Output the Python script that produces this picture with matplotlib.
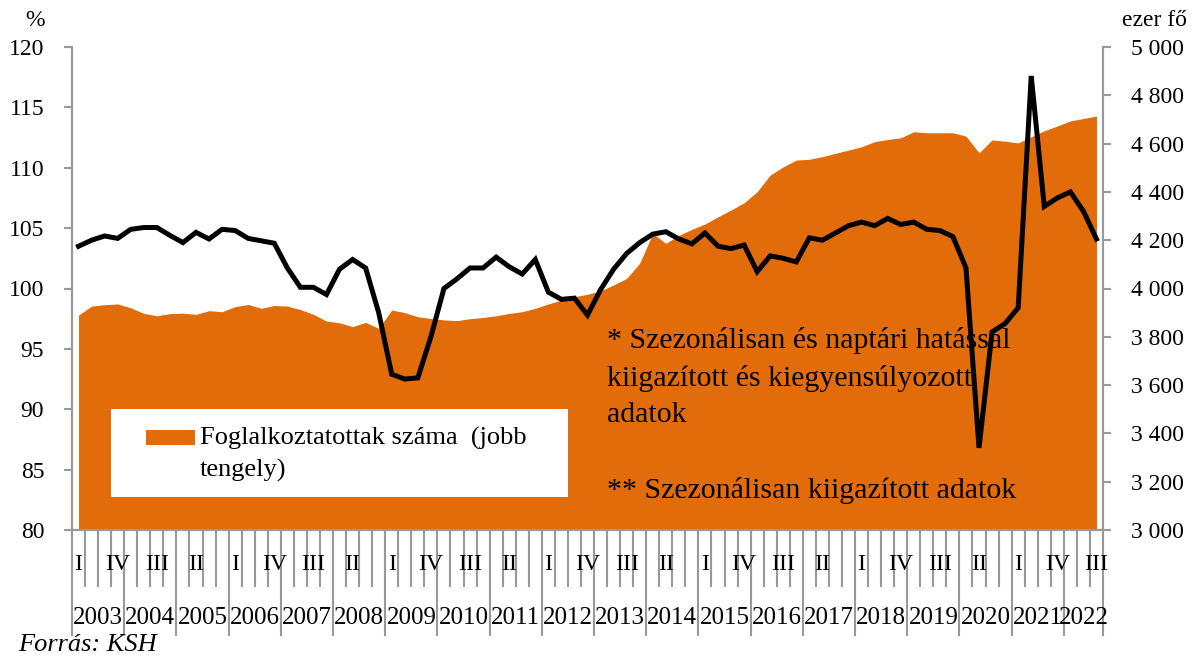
import matplotlib
matplotlib.use("Agg")
import matplotlib.pyplot as plt
from matplotlib.patches import Rectangle
from matplotlib.ticker import FixedLocator, FuncFormatter
import matplotlib.transforms as mtransforms

plt.rcParams['font.family'] = ['Liberation Serif', 'DejaVu Serif']

years = [str(y) for y in range(2003, 2023)]
quarters = ["I", "II", "III", "IV"]

# foglalkoztatottak szama, ezer fo (jobb tengely)
employed = [3890, 3927, 3933, 3936, 3920, 3897, 3887, 3896, 3898, 3893,
            3908, 3904, 3925, 3934, 3918, 3930, 3927, 3913, 3893, 3865,
            3858, 3842, 3860, 3835, 3911, 3900, 3883, 3876, 3870, 3867,
            3875, 3880, 3887, 3897, 3904, 3918, 3936, 3952, 3966, 3976,
            3990, 4015, 4042, 4105, 4228, 4187, 4220, 4245, 4267, 4297,
            4325, 4355, 4401, 4470, 4504, 4532, 4535, 4546, 4560, 4573,
            4587, 4608, 4617, 4624, 4649, 4645, 4645, 4645, 4631, 4562,
            4615, 4610, 4603, 4628, 4653, 4673, 4694, 4704, 4714]

# index, % (bal tengely)
index = [103.5, 104.0, 104.35, 104.15, 104.9, 105.05, 105.05, 104.4, 103.8, 104.65,
         104.1, 104.9, 104.8, 104.15, 103.95, 103.75, 101.7, 100.1, 100.1, 99.5,
         101.6, 102.4, 101.7, 98.0, 92.9, 92.5, 92.6, 96.0, 100.0, 100.8,
         101.7, 101.7, 102.6, 101.8, 101.2, 102.4, 99.7, 99.1, 99.2, 97.8,
         99.9, 101.6, 102.9, 103.8, 104.5, 104.7, 104.1, 103.7, 104.6, 103.5,
         103.3, 103.6, 101.4, 102.7, 102.5, 102.2, 104.2, 104.0, 104.6, 105.2,
         105.5, 105.2, 105.8, 105.3, 105.5, 104.9, 104.8, 104.3, 101.7, 86.8,
         96.4, 97.1, 98.4, 117.6, 106.8, 107.5, 108.0, 106.4, 104.1]

legend_label = "Foglalkoztatottak száma  (jobb\ntengely)"
note1 = "* Szezonálisan és naptári hatással\nkiigazított és kiegyensúlyozott\nadatok"
note2 = "** Szezonálisan kiigazított adatok"

n = len(index)
x = list(range(n))
qlabels = [quarters[i % 4] for i in x]

orange = "#E36C0A"
grey = "#999999"
fs = 17

fig = plt.figure(figsize=(11.97, 6.57), dpi=100)
ax = fig.add_axes([72 / 1197, 1 - 530 / 657, (1103 - 72) / 1197, (530 - 47) / 657])
ax2 = ax.twinx()

# area on the right axis, line on the left axis (sides swapped so the line is on top)
ax.fill_between(x, 3000, employed, color=orange, linewidth=0)
ax.set_ylim(3000, 5000)
ax.set_yticks(range(3000, 5001, 200))
ax.yaxis.set_major_formatter(FuncFormatter(lambda v, p: f"{int(v):,}".replace(",", " ")))
ax.yaxis.tick_right()

ax2.plot(x, index, color="black", linewidth=3.6, solid_joinstyle="miter")
ax2.set_ylim(80, 120)
ax2.set_yticks(range(80, 121, 5))
ax2.yaxis.tick_left()

ax.set_xlim(-0.5, n - 0.5)
for a in (ax, ax2):
    a.spines['top'].set_visible(False)
    for s in ('left', 'right', 'bottom'):
        a.spines[s].set_color(grey)
        a.spines[s].set_linewidth(1.5)
ax.tick_params(axis='y', labelsize=fs, length=6, width=1.5, color=grey, pad=14)
ax2.tick_params(axis='y', labelsize=fs, length=6, width=1.5, color=grey, pad=14)

# x axis: short tick at every quarter boundary, long one at year boundaries
year_edges = [-0.5] + [3.5 + 4 * k for k in range(19)] + [n - 0.5]
q_edges = [i + 0.5 for i in range(-1, n) if i + 0.5 not in year_edges]
ax.xaxis.set_major_locator(FixedLocator(year_edges))
ax.xaxis.set_minor_locator(FixedLocator(q_edges))
ax.tick_params(axis='x', which='major', length=76, width=1.5, color=grey, labelbottom=False)
ax.tick_params(axis='x', which='minor', length=41, width=1.5, color=grey)
ax2.tick_params(axis='x', which='both', bottom=False, labelbottom=False)

trans = mtransforms.blended_transform_factory(ax.transData, ax.transAxes)
for i in range(0, n, 3):
    ax.text(i, -0.072, qlabels[i], transform=trans, ha='center', va='center', fontsize=fs)
for k, yr in enumerate(years):
    lo = year_edges[k]
    hi = year_edges[k + 1]
    ax.text((lo + hi) / 2, -0.182, yr, transform=trans, ha='center', va='center', fontsize=fs + 1)

# legend: white box, orange key, two-line label
ax2.add_patch(Rectangle((111 / 1197, 1 - 497 / 657), (568 - 111) / 1197, 88 / 657,
                        transform=fig.transFigure, facecolor="white", edgecolor="none", zorder=3))
ax2.add_patch(Rectangle((146 / 1197, 1 - 445 / 657), 49 / 1197, 15 / 657,
                        transform=fig.transFigure, facecolor=orange, edgecolor="none", zorder=4))
fig.text(200 / 1197, 1 - 445 / 657, legend_label.split("\n")[0], ha='left', va='baseline',
         fontsize=19, zorder=5)
fig.text(200 / 1197, 1 - 477 / 657, legend_label.split("\n")[1], ha='left', va='baseline',
         fontsize=19, zorder=5)

ax2.text(607 / 1197, 1 - 422 / 657, note1, transform=fig.transFigure, fontsize=21.5,
         va='baseline', linespacing=1.5, zorder=1)
ax2.text(607 / 1197, 1 - 498 / 657, note2, transform=fig.transFigure, fontsize=21.5,
         va='baseline', zorder=1)

fig.text(45 / 1197, 1 - 21 / 657, "%", ha='right', va='center', fontsize=fs)
fig.text(1187 / 1197, 1 - 21 / 657, "ezer fő", ha='right', va='center', fontsize=fs)
fig.text(18 / 1197, 1 - 645 / 657, "Forrás: KSH", ha='left', va='center', fontsize=19, style='italic')

fig.savefig("out.png", dpi=100)
